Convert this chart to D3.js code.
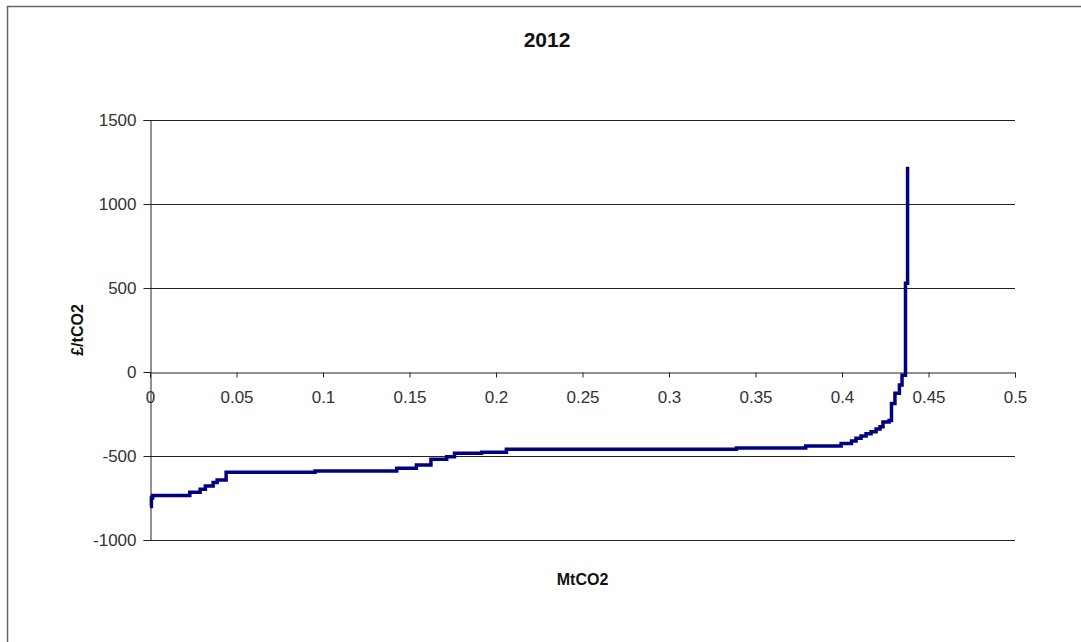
<!DOCTYPE html>
<html>
<head>
<meta charset="utf-8">
<script src="https://cdn.jsdelivr.net/npm/d3@7"></script>
<style>
  html, body { margin: 0; padding: 0; background: #fff; }
  svg { display: block; font-family: "Liberation Sans", Arial, sans-serif; }
</style>
</head>
<body>
<svg id="chart" width="1081" height="642"></svg>
<script>
// Marginal abatement cost curve, 2012: cumulative abatement (MtCO2) vs cost (£/tCO2)
const title = "2012";
const xLabel = "MtCO2";
const yLabel = "£/tCO2";

// Step breakpoints: cumulative abatement at which each cost level starts
const cumAbatement = [
  0, 0.0008, 0.0015, 0.023, 0.029, 0.032, 0.0365, 0.0388, 0.044,
  0.0954, 0.1426, 0.154, 0.1624, 0.1715, 0.176, 0.1917, 0.206,
  0.339, 0.379, 0.3995, 0.4055, 0.4081, 0.411, 0.4139, 0.4168,
  0.4197, 0.422, 0.4237, 0.4272, 0.4286, 0.4306, 0.4332, 0.4347,
  0.4367, 0.4379
];
const costLevels = [
  -800, -750, -735, -716, -698, -679, -657, -643, -597,
  -589, -573, -554, -520, -504, -484, -478, -460,
  -452, -440, -425, -410, -395, -381, -368, -355,
  -340, -326, -298, -288, -187, -127, -77, -20,
  528, 1222
];

const xTicks = [0, 0.05, 0.1, 0.15, 0.2, 0.25, 0.3, 0.35, 0.4, 0.45, 0.5];
const yTicks = [-1000, -500, 0, 500, 1000, 1500];

const svg = d3.select("#chart");

// Outer chart frame
svg.append("rect")
  .attr("x", 7.5).attr("y", 6.5)
  .attr("width", 1100).attr("height", 660)
  .attr("fill", "none").attr("stroke", "#666").attr("stroke-width", 1.5);

const plot = { left: 150, right: 1015, top: 120, bottom: 540 };

const x = d3.scaleLinear().domain([0, 0.5]).range([plot.left, plot.right]);
const y = d3.scaleLinear().domain([-1000, 1500]).range([plot.bottom, plot.top]);

// Plain hyphen-minus for negative numbers
const plain = d => String(+d.toFixed(2));

// Horizontal gridlines
svg.append("g")
  .selectAll("line")
  .data(yTicks.filter(d => d !== 0))
  .join("line")
  .attr("x1", plot.left).attr("x2", plot.right)
  .attr("y1", d => Math.round(y(d)) + 0.5).attr("y2", d => Math.round(y(d)) + 0.5)
  .attr("stroke", "#222").attr("stroke-width", 1);

// Y axis
const yAxis = svg.append("g")
  .attr("transform", `translate(${plot.left + 0.5},0)`)
  .call(d3.axisLeft(y).tickValues(yTicks).tickSize(7).tickPadding(7).tickFormat(plain));
yAxis.select(".domain").attr("stroke", "#222");
yAxis.selectAll(".tick line").attr("stroke", "#222");
yAxis.selectAll(".tick text")
  .attr("font-size", 17).attr("fill", "#333")
  .attr("font-family", "Liberation Sans, Arial, sans-serif");

// X axis drawn along the zero line
const xAxis = svg.append("g")
  .attr("transform", `translate(0,${Math.round(y(0)) + 0.5})`)
  .call(d3.axisBottom(x).tickValues(xTicks).tickSize(5).tickPadding(13).tickFormat(plain));
xAxis.select(".domain").attr("stroke", "#222");
xAxis.selectAll(".tick line").attr("stroke", "#222");
xAxis.selectAll(".tick text")
  .attr("font-size", 17).attr("fill", "#333")
  .attr("font-family", "Liberation Sans, Arial, sans-serif");

// Cost curve as a staircase
const pts = cumAbatement.map((d, i) => [d, costLevels[i]]);
const line = d3.line()
  .x(d => x(d[0]))
  .y(d => y(d[1]))
  .curve(d3.curveStepAfter);

svg.append("path")
  .datum(pts)
  .attr("d", line)
  .attr("fill", "none")
  .attr("stroke", "#000080")
  .attr("stroke-width", 3.5)
  .attr("stroke-linejoin", "miter");

// Titles
svg.append("text")
  .attr("x", 547).attr("y", 47)
  .attr("text-anchor", "middle")
  .attr("font-size", 21).attr("font-weight", "bold").attr("fill", "#111")
  .text(title);

svg.append("text")
  .attr("x", (plot.left + plot.right) / 2).attr("y", 585)
  .attr("text-anchor", "middle")
  .attr("font-size", 16).attr("font-weight", "bold").attr("fill", "#111")
  .text(xLabel);

svg.append("text")
  .attr("transform", `translate(83,${(plot.top + plot.bottom) / 2}) rotate(-90)`)
  .attr("text-anchor", "middle")
  .attr("font-size", 16).attr("font-weight", "bold").attr("fill", "#111")
  .text(yLabel);
</script>
</body>
</html>
